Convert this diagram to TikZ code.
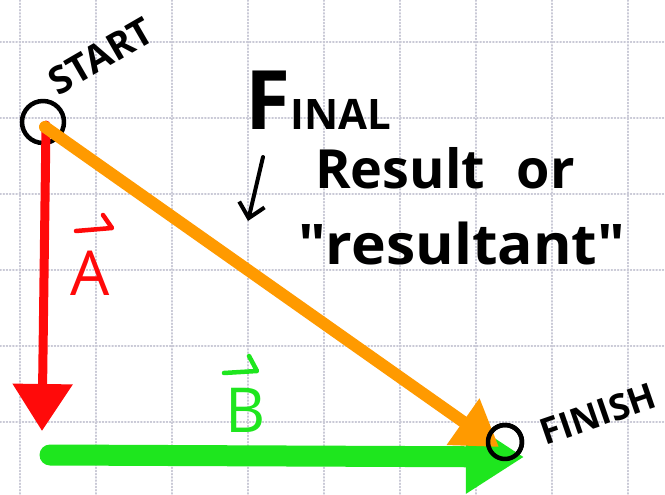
\documentclass[tikz,border=0pt]{standalone}
\usepackage{fontspec}
\newfontfamily\handfont{Open Sans}
\usetikzlibrary{arrows.meta}

\begin{document}
\begin{tikzpicture}[x=1pt, y=-1pt, line cap=round, line join=round]

  % Colors
  \definecolor{gridcolor}{HTML}{C9C9D6}
  \definecolor{vecA}{HTML}{FF0A0A} % red
  \definecolor{vecB}{HTML}{1EE61E} % green
  \definecolor{vecR}{HTML}{FF9A00} % orange

  \tikzset{
    gridline/.style={gridcolor, line width=1.2pt, dotted},
    ring/.style={circle, draw=black, line width=4.5pt, inner sep=0pt},
    handtext/.style={inner sep=0pt, font=\handfont\bfseries},
    veclabel/.style={handtext, font=\handfont\fontsize{62}{62}\selectfont},
    overarrow/.style={line width=4.5pt},
  }

  \useasboundingbox[fill=white] (0,0) rectangle (665,495);

  % grid paper
  \foreach \gx in {20,96,...,628} {
    \draw[gridline] (\gx,0) -- (\gx,495);
  }
  \foreach \gy in {42,118,...,422} {
    \draw[gridline] (0,\gy) -- (665,\gy);
  }

  % end points
  \node[ring, minimum size=42pt] (start) at (43,122) {};
  \node[ring, minimum size=34pt] (finish) at (505,442) {};
  \coordinate (astart) at (46,125);
  \coordinate (aend) at (42,431);
  \coordinate (bstart) at (50,455);
  \coordinate (bend) at (524,457);
  \coordinate (rstart) at (45,127);
  \coordinate (rend) at (499,447);

  % vector A
  \draw[vecA, line width=9pt, -{Triangle[width=58pt, length=47pt]}] (astart) -- (aend);
  % vector B
  \draw[vecB, line width=21pt, -{Triangle[width=70pt, length=58pt]}] (bstart) -- (bend);
  % resultant
  \draw[vecR, line width=12pt, -{Triangle[width=54pt, length=44pt]}] (rstart) -- (rend);
  \node[ring, minimum size=34pt] at (finish) {};

  % labels
  \node[handtext, rotate=30, font=\handfont\bfseries\fontsize{38}{38}\selectfont] (starttext) at (101,56) {START};
  \node[handtext, rotate=19, font=\handfont\bfseries\fontsize{36}{36}\selectfont] (finishtext) at (598,414) {FINISH};

  \node[veclabel, vecA] (labA) at (90,273) {A};
  \draw[vecA, overarrow] (76,231) -- (112,228) -- (103,215);
  \node[veclabel, vecB] (labB) at (246,410) {B};
  \draw[vecB, overarrow] (224,373) -- (257,371) -- (249,356);

  % Final Result text
  \node[handtext, anchor=base west, font=\handfont\bfseries\fontsize{82}{82}\selectfont] (final) at (245,130)
    {F\fontsize{42}{42}\selectfont INAL};
  \node[handtext, anchor=base west, font=\handfont\bfseries\fontsize{54}{54}\selectfont] (result) at (315,188) {Result\hspace{18pt} or};
  \node[handtext, anchor=base west, xscale=1.05, font=\handfont\bfseries\fontsize{56}{56}\selectfont] (resultant) at (298,264) {\textquotedbl resultant\textquotedbl};

  % small pointer
  \coordinate (ptail) at (263,157);
  \coordinate (phead) at (248,221);
  \draw[line width=4pt, -{Straight Barb[length=14pt, width=26pt, line width=4pt]}] (ptail) -- (phead);

\end{tikzpicture}
\end{document}
